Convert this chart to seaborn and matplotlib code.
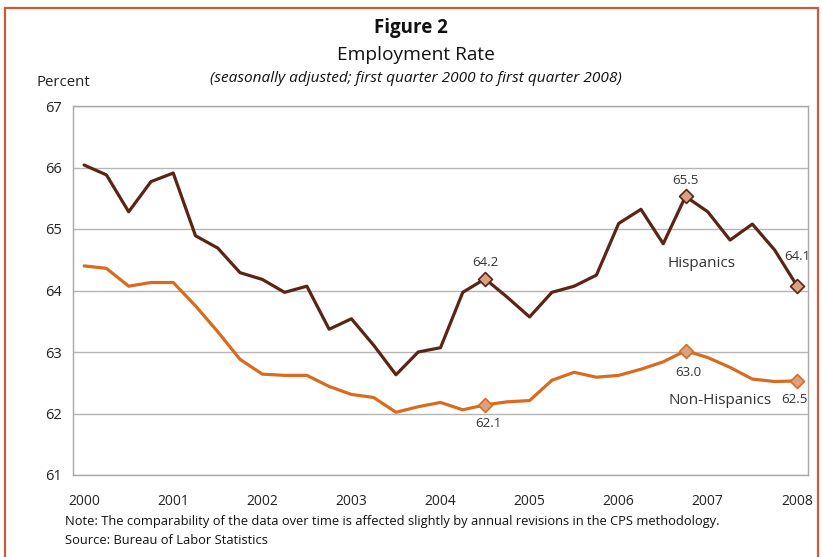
import matplotlib
matplotlib.use("Agg")
import matplotlib.pyplot as plt
import seaborn as sns
import pandas as pd
import numpy as np
from matplotlib.patches import Rectangle

# ---- data (quarterly, 2000Q1 .. 2008Q1) ----
years = ["2000", "2001", "2002", "2003", "2004", "2005", "2006", "2007", "2008"]
hispanics = [66.04, 65.88, 65.28, 65.77, 65.91, 64.89, 64.69, 64.29, 64.18, 63.97,
             64.07, 63.37, 63.54, 63.11, 62.63, 63.00, 63.07, 63.97, 64.19, 63.89,
             63.57, 63.97, 64.07, 64.25, 65.09, 65.32, 64.76, 65.53, 65.28, 64.82,
             65.08, 64.66, 64.08]
non_hispanics = [64.40, 64.36, 64.07, 64.13, 64.13, 63.75, 63.33, 62.88, 62.64, 62.62,
                 62.62, 62.44, 62.31, 62.26, 62.02, 62.11, 62.18, 62.06, 62.14, 62.19,
                 62.21, 62.54, 62.67, 62.59, 62.62, 62.72, 62.84, 63.02, 62.91, 62.75,
                 62.56, 62.52, 62.53]
highlight_idx = [18, 27, 32]

W, H = 822, 557
fig = plt.figure(figsize=(W / 100, H / 100), dpi=100)
sns.set_style("white")
plt.rcParams['font.family'] = ['Open Sans', 'DejaVu Sans']

def fx(x):
    return x / W

def fy(y):
    return 1 - y / H

ax = fig.add_axes([fx(73), fy(475), fx(808) - fx(73), fy(106) - fy(475)])

n = len(hispanics)
df = pd.DataFrame({
    "q": list(range(n)) * 2,
    "rate": hispanics + non_hispanics,
    "group": ["Hispanics"] * n + ["Non-Hispanics"] * n,
})
hisp_col = "#5b2515"
nonh_col = "#d96b1f"
sns.lineplot(data=df, x="q", y="rate", hue="group",
             palette={"Hispanics": hisp_col, "Non-Hispanics": nonh_col},
             linewidth=2.3, legend=False, ax=ax)

hdf = pd.DataFrame({"q": highlight_idx, "rate": [hispanics[i] for i in highlight_idx]})
ndf = pd.DataFrame({"q": highlight_idx, "rate": [non_hispanics[i] for i in highlight_idx]})
sns.scatterplot(data=hdf, x="q", y="rate", marker="D", s=50, color="#d9a383",
                edgecolor=hisp_col, linewidth=1.2, ax=ax, zorder=5)
sns.scatterplot(data=ndf, x="q", y="rate", marker="D", s=50, color="#d9a383",
                edgecolor=nonh_col, linewidth=1.2, ax=ax, zorder=5)

ax.set_xlim(-0.5, n - 0.5)
ax.set_ylim(61, 67)
ax.set_xticks(range(0, n, 4))
ax.set_xticklabels(years)
ax.set_xticks(np.arange(-0.5, n, 1), minor=True)
ax.set_yticks(range(61, 68))
ax.tick_params(axis="x", which="major", length=0, pad=14, labelsize=10, colors="#222222")
ax.tick_params(axis="x", which="minor", length=4, width=0.8, color="#888888", direction="out")
ax.tick_params(axis="y", which="major", length=4, width=0.8, color="#888888",
               labelsize=10.5, pad=4, labelcolor="#222222")
ax.grid(axis="y", color="#b5b5b5", linewidth=1.0)
ax.set_axisbelow(True)
for s in ax.spines.values():
    s.set_color("#a8a8a8")
    s.set_linewidth(1.0)
ax.set_xlabel("")
ax.set_ylabel("")

gray = "#333333"
for i in highlight_idx:
    v = hispanics[i]
    dy = 16 if i != 32 else 29
    ax.annotate(f"{v:.1f}", (i, v), xytext=(0, dy), textcoords="offset pixels",
                ha="center", va="center", fontsize=9.5, color=gray)
    v = non_hispanics[i]
    dy = -19 if i != 27 else -22
    ax.annotate(f"{v:.1f}", (i, v), xytext=(-2 if i == 32 else 3, dy), textcoords="offset pixels",
                ha="center", va="center", fontsize=9.5, color=gray)

ax.text(27.74, 64.44, "Hispanics", ha="center", va="center", fontsize=11, color=gray)
ax.text(28.53, 62.21, "Non-Hispanics", ha="center", va="center", fontsize=11, color=gray)

fig.text(fx(411), fy(28), "Figure 2", ha="center", va="center", fontsize=13.5,
         fontweight="bold", color="#111111")
fig.text(fx(416), fy(55), "Employment Rate", ha="center", va="center", fontsize=13.8,
         color="#111111")
fig.text(fx(416), fy(78), "(seasonally adjusted; first quarter 2000 to first quarter 2008)",
         ha="center", va="center", fontsize=11.1, style="italic", color="#111111")
fig.text(fx(36), fy(83), "Percent", ha="left", va="center", fontsize=10.8, color="#222222")
fig.text(fx(65), fy(522),
         "Note: The comparability of the data over time is affected slightly by annual revisions in the CPS methodology.",
         ha="left", va="center", fontsize=9.25, color="#111111")
fig.text(fx(65), fy(541), "Source: Bureau of Labor Statistics", ha="left", va="center",
         fontsize=9.25, color="#111111")

fig.patches.append(Rectangle((fx(5), fy(580)), fx(818) - fx(5), fy(8) - fy(580),
                             transform=fig.transFigure, fill=False,
                             edgecolor="#cf5a35", linewidth=1.6))

fig.savefig("out.png", dpi=100)
